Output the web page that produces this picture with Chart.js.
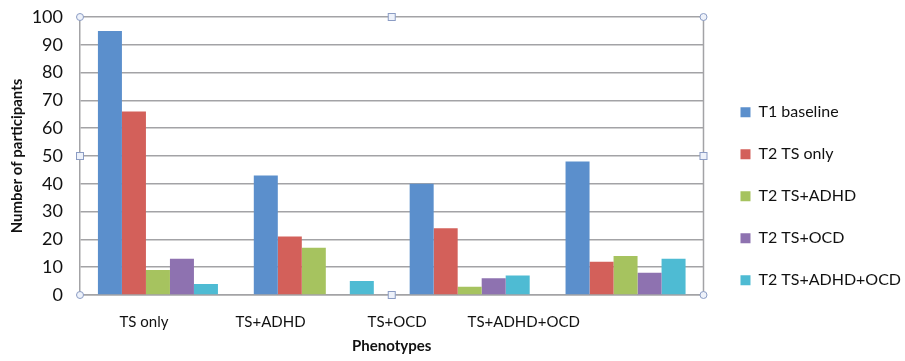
<!DOCTYPE html>
<html lang="en">
<head>
<meta charset="UTF-8">
<title>Phenotypes</title>
<script src="https://cdn.jsdelivr.net/npm/chart.js"></script>
<style>
  html, body { margin: 0; padding: 0; background: #fff; }
  #wrap { width: 905px; height: 361px; }
</style>
</head>
<body>
<div id="wrap"><canvas id="chart"></canvas></div>
<script>
  // data
  const categories = ['TS only', 'TS+ADHD', 'TS+OCD', 'TS+ADHD+OCD'];
  const t1Baseline = [95, 43, 40, 48];
  const t2TsOnly = [66, 21, 24, 12];
  const t2TsAdhd = [9, 17, 3, 14];
  const t2TsOcd = [13, 0, 6, 8];
  const t2TsAdhdOcd = [4, 5, 7, 13];
  const yTicks = [0, 10, 20, 30, 40, 50, 60, 70, 80, 90, 100];

  const seriesNames = ['T1 baseline', 'T2 TS only', 'T2 TS+ADHD', 'T2 TS+OCD', 'T2 TS+ADHD+OCD'];
  const seriesData = [t1Baseline, t2TsOnly, t2TsAdhd, t2TsOcd, t2TsAdhdOcd];
  const colors = ['#5b8fcc', '#d3605a', '#a6c35f', '#8e72b0', '#4ebbd3'];

  const font = 'Lato, "Open Sans", sans-serif';
  const gridCol = '#a3a3a6';

  // PowerPoint-style selection handles round the plot area
  const handles = {
    id: 'handles',
    afterLayout(chart) {
      // push the legend a little away from the plot
      chart.legend.left += 11;
      chart.legend.right += 11;
    },
    afterDraw(chart) {
      const { ctx, chartArea: a } = chart;
      const midX = (a.left + a.right) / 2, midY = (a.top + a.bottom) / 2;
      ctx.save();
      // right border of the plot
      ctx.strokeStyle = gridCol;
      ctx.lineWidth = 1.5;
      ctx.beginPath(); ctx.moveTo(a.right, a.top); ctx.lineTo(a.right, a.bottom); ctx.stroke();
      ctx.strokeStyle = '#8b9cc4';
      ctx.fillStyle = '#eef2fa';
      ctx.lineWidth = 1;
      [[a.left, a.top], [a.right, a.top], [a.left, a.bottom], [a.right, a.bottom]].forEach(([x, y]) => {
        ctx.beginPath(); ctx.arc(x, y, 3.5, 0, Math.PI * 2); ctx.fill(); ctx.stroke();
      });
      [[midX, a.top], [a.left, midY], [a.right, midY], [midX, a.bottom]].forEach(([x, y]) => {
        ctx.fillRect(x - 3.5, y - 3.5, 7, 7); ctx.strokeRect(x - 3.5, y - 3.5, 7, 7);
      });
      ctx.restore();
    }
  };

  new Chart(document.getElementById('chart'), {
    type: 'bar',
    data: {
      labels: categories,
      datasets: seriesNames.map((name, i) => ({
        label: name,
        data: seriesData[i],
        backgroundColor: colors[i],
        barPercentage: 1,
        categoryPercentage: 0.77
      }))
    },
    options: {
      responsive: true,
      maintainAspectRatio: false,
      animation: false,
      layout: { padding: { top: 17, right: 5, bottom: 6, left: 4 } },
      plugins: {
        tooltip: { enabled: false },
        legend: {
          position: 'right',
          title: { display: true, text: ' ', padding: { top: 6 } },
          labels: {
            boxWidth: 10, boxHeight: 10, padding: 26,
            color: '#111',
            font: { family: font, size: 16 }
          }
        }
      },
      scales: {
        x: {
          weight: 0,
          grid: { display: false, drawTicks: false },
          border: { color: gridCol, width: 1.5 },
          ticks: { display: false },
          afterFit: axis => { axis.height = 0; }
        },
        // in the original the category names sit a bit left of their bar groups
        xLabels: {
          type: 'linear',
          position: 'bottom',
          weight: 1,
          offset: false,
          min: -0.505, max: 4.42,
          afterBuildTicks: axis => { axis.ticks = categories.map((c, i) => ({ value: i })); },
          grid: { display: false, drawTicks: false, offset: false },
          border: { display: false },
          ticks: { color: '#111', font: { family: font, size: 15 }, padding: 18, maxRotation: 0, autoSkip: false,
                   callback: v => categories[v] },
          title: { display: true, text: 'Phenotypes', color: '#111', font: { family: font, size: 15, weight: 'bold' }, padding: { top: 3, bottom: 0 } },
          afterFit: axis => { axis.height = 60; axis.paddingLeft = 0; axis.paddingRight = 0; }
        },
        y: {
          min: 0, max: 100,
          afterBuildTicks: axis => { axis.ticks = yTicks.map(v => ({ value: v })); },
          grid: { color: gridCol, lineWidth: 1.5, drawTicks: false },
          border: { color: gridCol, width: 1.5 },
          ticks: { color: '#111', font: { family: font, size: 18 }, padding: 17 },
          title: { display: true, text: 'Number of participants', color: '#111', font: { family: font, size: 15, weight: 'bold' }, padding: { top: 4, bottom: 7 } },
          afterFit: axis => { axis.width = 76; axis.paddingTop = 0; }
        }
      }
    },
    plugins: [handles]
  });
</script>
</body>
</html>
